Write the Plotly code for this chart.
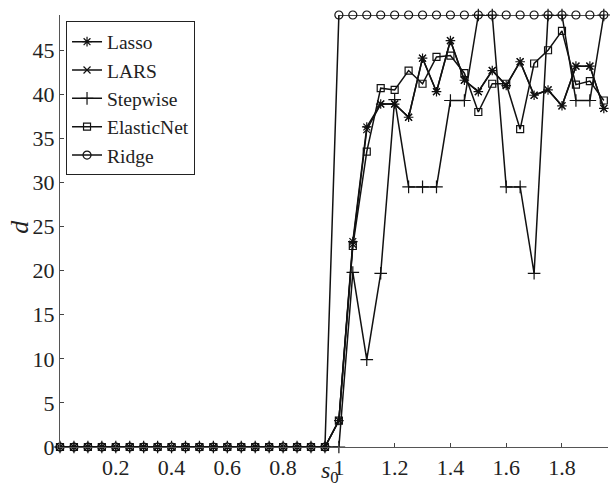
import plotly.graph_objects as go

# s0 grid (0, 0.05, ..., 1.95)
s0 = [round(0.05 * k, 2) for k in range(40)]

zeros20 = [0] * 20  # s0 = 0 .. 0.95

lasso = zeros20 + [3, 23.3, 36.3, 38.9, 38.9, 37.4, 44.1, 40.3, 46.1, 41.6,
                   40.3, 42.7, 41.0, 43.7, 39.9, 40.5, 38.7, 43.2, 43.2, 38.4]
lars = zeros20 + [3, 23.0, 36.0, 38.9, 38.9, 37.4, 44.1, 40.3, 46.1, 41.6,
                  40.3, 42.7, 41.0, 43.7, 39.9, 40.5, 38.7, 43.2, 43.2, 38.4]
stepwise = zeros20 + [0, 19.8, 9.9, 19.7, 39.4, 29.5, 29.5, 29.5, 39.3, 39.3,
                      49, 49, 29.5, 29.5, 19.7, 49, 49, 39.3, 39.3, 49]
elasticnet = zeros20 + [3, 22.8, 33.5, 40.7, 40.5, 42.7, 41.2, 44.25, 44.4, 42.4,
                        38.0, 41.2, 41.2, 36.05, 43.5, 45.0, 47.2, 41.1, 41.5, 39.3]
ridge = zeros20 + [49] * 20

series = [
    ("Lasso", lasso, "asterisk-open", 8),
    ("LARS", lars, "x-thin-open", 7),
    ("Stepwise", stepwise, "cross-thin-open", 9),
    ("ElasticNet", elasticnet, "square-open", 7),
    ("Ridge", ridge, "circle-open", 8),
]

xtick_vals = [0.2, 0.4, 0.6, 0.8, 1.0, 1.2, 1.4, 1.6, 1.8]
xtick_text = ["0.2", "0.4", "0.6", "0.8", "1", "1.2", "1.4", "1.6", "1.8"]
ytick_vals = [0, 5, 10, 15, 20, 25, 30, 35, 40, 45]

fig = go.Figure()
for name, vals, sym, sz in series:
    fig.add_trace(go.Scatter(
        x=s0, y=vals, name=name, mode="lines+markers",
        line=dict(color="#111111", width=1.5),
        marker=dict(symbol=sym, size=sz, color="#111111",
                    line=dict(color="#111111", width=1.2)),
        cliponaxis=False,
    ))

font_family = "Times New Roman"

fig.update_layout(
    width=610, height=488,
    margin=dict(l=60, r=2, t=15, b=41),
    paper_bgcolor="white", plot_bgcolor="white",
    font=dict(family=font_family, size=22, color="#222222"),
    showlegend=True,
    legend=dict(
        x=0.011, y=0.985, xanchor="left", yanchor="top",
        bgcolor="white", bordercolor="#222222", borderwidth=1,
        font=dict(family=font_family, size=19.5, color="#222222"),
        tracegroupgap=0, itemwidth=30,
    ),
    xaxis=dict(
        range=[0, 1.965], tickvals=xtick_vals, ticktext=xtick_text,
        ticks="inside", ticklen=4, tickcolor="#444444",
        showline=True, linecolor="#555555", linewidth=1.2,
        showgrid=False, zeroline=False,
    ),
    yaxis=dict(
        range=[0, 49], tickvals=ytick_vals,
        ticks="inside", ticklen=4, tickcolor="#444444",
        showline=True, linecolor="#555555", linewidth=1.2,
        showgrid=False, zeroline=False,
    ),
    annotations=[
        dict(text="<i>d</i>", xref="paper", yref="paper",
             x=-0.073, y=0.51, xanchor="center", yanchor="middle",
             showarrow=False, textangle=-90,
             font=dict(family=font_family, size=26, color="#222222")),
        dict(text="<i>s</i><sub>0</sub>", xref="paper", yref="paper",
             x=0.493, y=-0.096, xanchor="center", yanchor="bottom",
             showarrow=False, borderpad=0,
             font=dict(family=font_family, size=24, color="#222222")),
    ],
)

fig.write_html("out.html")
